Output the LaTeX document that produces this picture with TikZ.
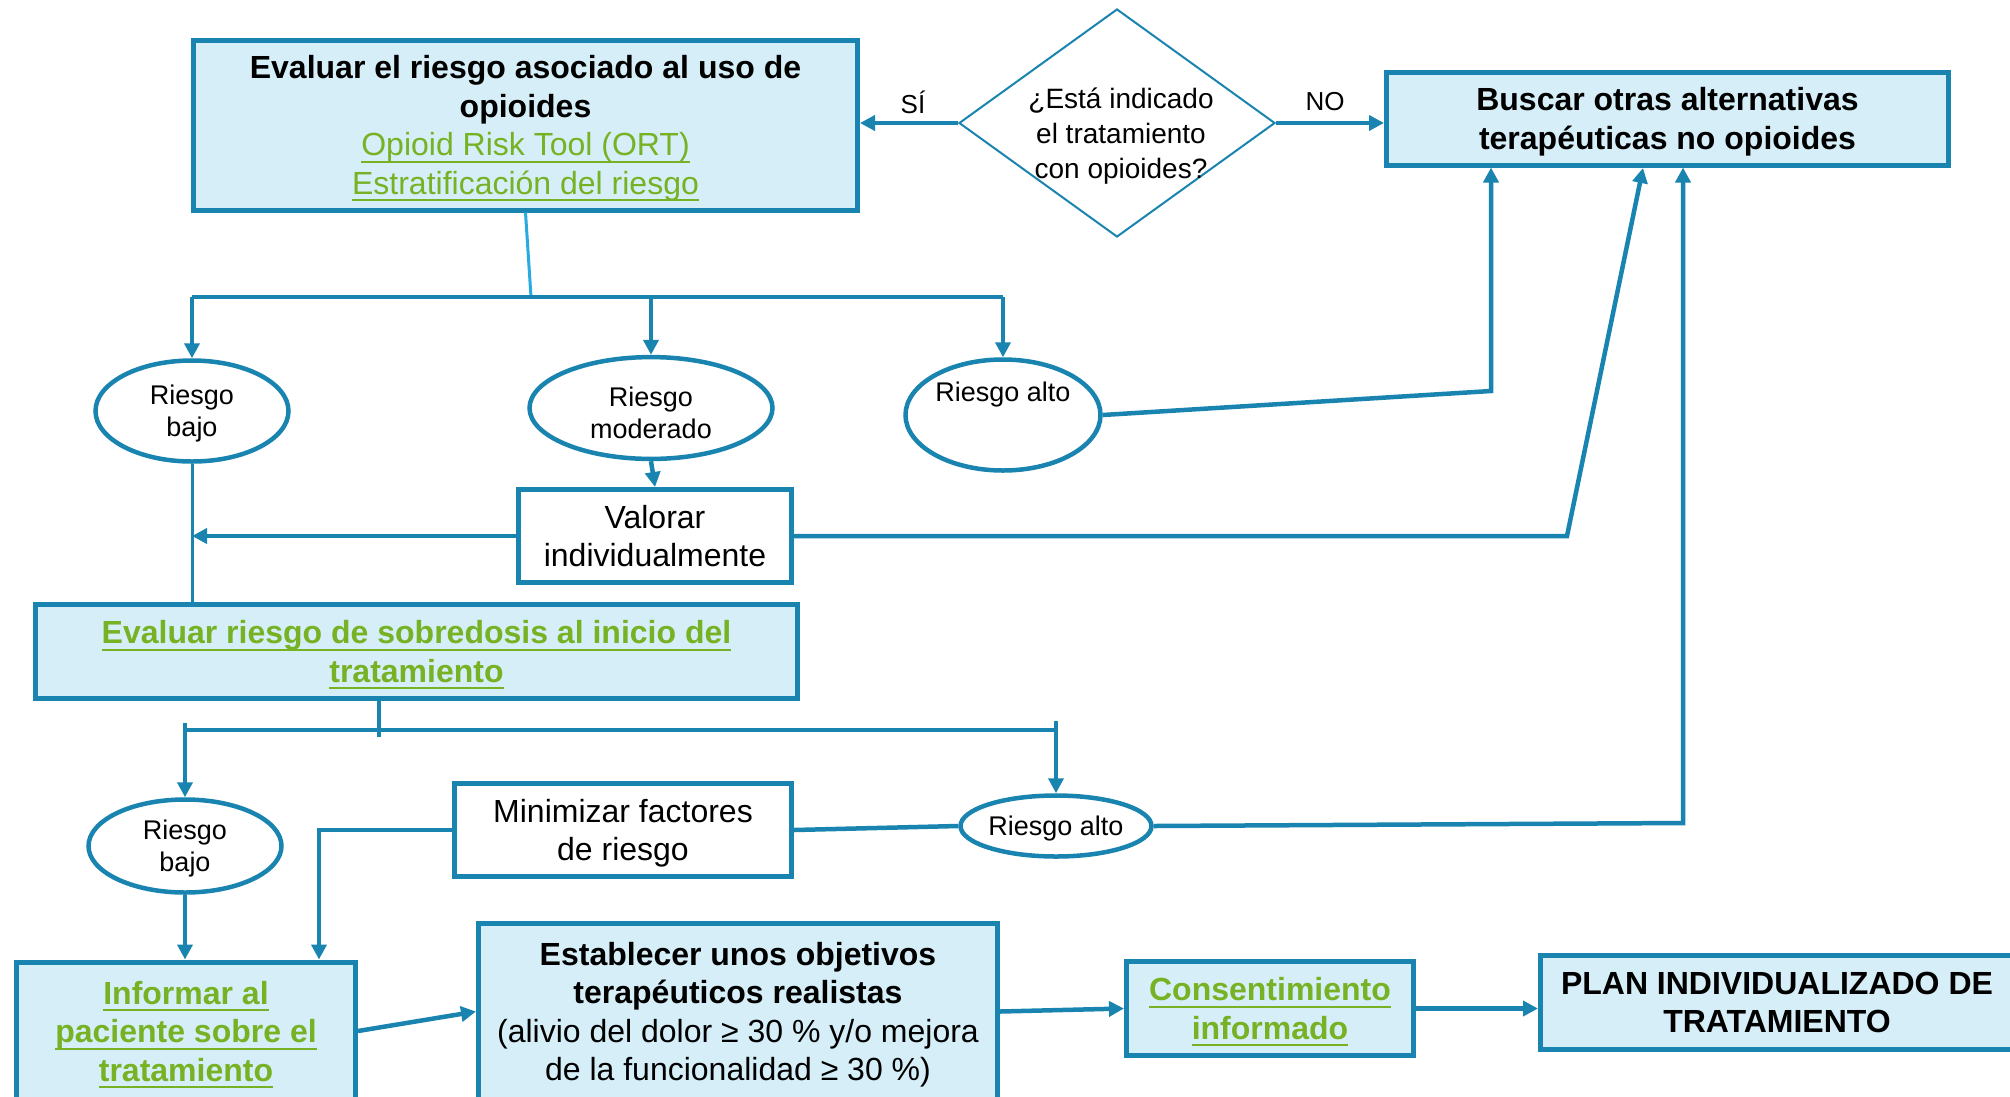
\documentclass[tikz,border=0pt]{standalone}
\usepackage{fontspec}
\setmainfont{Liberation Sans}
\usetikzlibrary{shapes.geometric,arrows.meta}
\definecolor{bblue}{RGB}{26,132,176}
\definecolor{lblue}{RGB}{213,238,248}
\definecolor{lgreen}{RGB}{118,178,36}
\definecolor{cyanl}{RGB}{41,171,226}
\newcommand{\grul}[1]{\textcolor{lgreen}{\setbox0=\hbox{#1}\rlap{\vrule height -5pt depth 7pt width \wd0}\box0}}
\newcommand{\tb}{\rule{0pt}{30pt}}
\newcommand{\te}{\rule[-7pt]{0pt}{7pt}}
\newcommand{\eb}{\rule{0pt}{25pt}}
\newcommand{\ebm}{\rule{0pt}{34pt}}
\newcommand{\ee}{\rule[-6pt]{0pt}{6pt}}
\tikzset{
  box/.style={draw=bblue, line width=5pt, fill=lblue, rectangle, inner sep=0pt, align=center, font=\fontsize{32}{38.5}\selectfont},
  wbox/.style={box, fill=white},
  ell/.style={draw=bblue, line width=4.5pt, ellipse, inner sep=0pt, align=center, fill=white, font=\fontsize{27}{32}\selectfont},
  conn/.style={draw=bblue, line width=4.5pt},
  thinconn/.style={draw=bblue, line width=3pt},
  cyanline/.style={draw=cyanl, line width=3pt},
  arr/.style={conn, -{Triangle[length=15pt,width=15pt]}},
  lbl/.style={font=\fontsize{26}{30}\selectfont, inner sep=0pt},
}
\begin{document}
\begin{tikzpicture}[x=1pt,y=-1pt]
\useasboundingbox (0,0) rectangle (2010,1096);
\clip (0,0) rectangle (2010,1096);
\fill[white] (0,0) rectangle (2010,1096);

% top row
\node[box, minimum width=664pt, minimum height=170pt] (b1) at (525.5,125)
 {\tb\bfseries Evaluar el riesgo asociado al uso de\\\bfseries opioides\\\grul{Opioid Risk Tool (ORT)}\\\grul{Estratificación del riesgo}\te};
\node[draw=bblue, line width=2pt, diamond, shape aspect=1.386, inner sep=0pt, minimum width=316pt, minimum height=228pt] (q) at (1117,123) {};
\node[font=\fontsize{28}{35}\selectfont, align=center, inner sep=0pt] (qt) at (1121,136) {¿Está indicado\\el tratamiento\\con opioides?};
\node[box, minimum width=562pt, minimum height=93pt] (b2) at (1667.5,118.5)
 {\tb\bfseries Buscar otras alternativas\\\bfseries terapéuticas no opioides\te};

% upper risk ellipses
\node[ell, minimum width=193pt, minimum height=101pt] (rb1) at (192,411) {\eb Riesgo\\bajo\ee};
\node[ell, minimum width=243pt, minimum height=95pt] (rm) at (651,408) {\ebm Riesgo\\moderado\ee};
\node[ell, minimum width=195pt, minimum height=111pt, text height=22pt, text depth=50pt] (ra1) at (1003,415) {Riesgo alto};

\node[wbox, minimum width=273pt, minimum height=93pt] (val) at (655,536) {\tb Valorar\\individualmente\te};

\node[box, minimum width=762pt, minimum height=94pt] (b3) at (416.5,651.5)
 {\tb\bfseries\grul{Evaluar riesgo de sobredosis al inicio del}\\\bfseries\grul{tratamiento}\te};

% lower risk
\node[ell, minimum width=193pt, minimum height=93pt] (rb2) at (185,846) {\eb Riesgo\\bajo\ee};
\node[ell, minimum width=191pt, minimum height=61pt] (ra2) at (1056,826) {\eb Riesgo alto\ee};
\node[wbox, minimum width=337pt, minimum height=93pt] (mini) at (623,830) {\tb Minimizar factores\\de riesgo\te};

% bottom row
\node[box, minimum width=339pt, minimum height=138pt] (inf) at (186,1031)
 {\tb\bfseries\grul{Informar al}\\\bfseries\grul{paciente sobre el}\\\bfseries\grul{tratamiento}\te};
\node[box, minimum width=519pt, minimum height=177pt] (est) at (738,1011.5)
 {\tb\bfseries Establecer unos objetivos\\\bfseries terapéuticos realistas\\(alivio del dolor ≥ 30 \% y/o mejora\\de la funcionalidad ≥ 30 \%)\te};
\node[box, minimum width=287pt, minimum height=94pt] (cons) at (1270,1008.5)
 {\tb\bfseries\grul{Consentimiento}\\\bfseries\grul{informado}\te};
\node[box, minimum width=473pt, minimum height=94pt] (plan) at (1777,1002)
 {\tb\bfseries PLAN INDIVIDUALIZADO DE\\\bfseries TRATAMIENTO\te};

% labels
\node[lbl] (si) at (913,102) {SÍ};
\node[lbl] (no) at (1325,102) {NO};

% connectors top
\draw[arr] (q.west) -- (q.west -| b1.east);
\draw[arr] (q.east) -- (q.east -| b2.west);

\coordinate (j1) at (531,297);
\draw[cyanline] (b1.south) -- (j1);
\draw[conn] (rb1.north |- j1) -- (ra1.north |- j1);
\draw[arr] (rb1.north |- j1) -- (rb1.north);
\draw[arr] (rm.north |- j1) -- (rm.north);
\draw[arr] (ra1.north |- j1) -- (ra1.north);

\draw[thinconn] (rb1.south) -- (rb1.south |- b3.north);
\draw[arr] (val.west) -- (val.west -| rb1.south);
\draw[arr] (rm.south) -- (val.north);

\coordinate (c1) at (1491,391);
\draw[arr] (ra1.east) -- (c1) -- (c1 |- b2.south);
\coordinate (c2) at (1567,536);
\coordinate (c2t) at (1643,168);
\draw[arr] (val.east) -- (c2) -- (c2t);

% connectors lower
\coordinate (j2) at (379,730);
\coordinate (j2b) at (379,737);
\coordinate (t1) at (185,723);
\coordinate (t2) at (1056,721);
\draw[conn] (b3.south -| j2) -- (j2b);
\draw[conn] (rb2.north |- j2) -- (ra2.north |- j2);
\draw[arr] (t1) -- (rb2.north);
\draw[arr] (t2) -- (ra2.north);
\draw[arr] (rb2.south) -- (rb2.south |- inf.north);
\coordinate (c3) at (319,830);
\draw[arr] (mini.west) -- (c3) -- (c3 |- inf.north);
\draw[conn] (mini.east) -- (ra2.west);
\coordinate (c4) at (1683,823);
\draw[arr] (ra2.east) -- (c4) -- (c4 |- b2.south);

\draw[arr] (inf.east) -- (est.west);
\draw[arr] (est.east) -- (cons.west);
\draw[arr] (cons.east) -- (cons.east -| plan.west);
\end{tikzpicture}
\end{document}
